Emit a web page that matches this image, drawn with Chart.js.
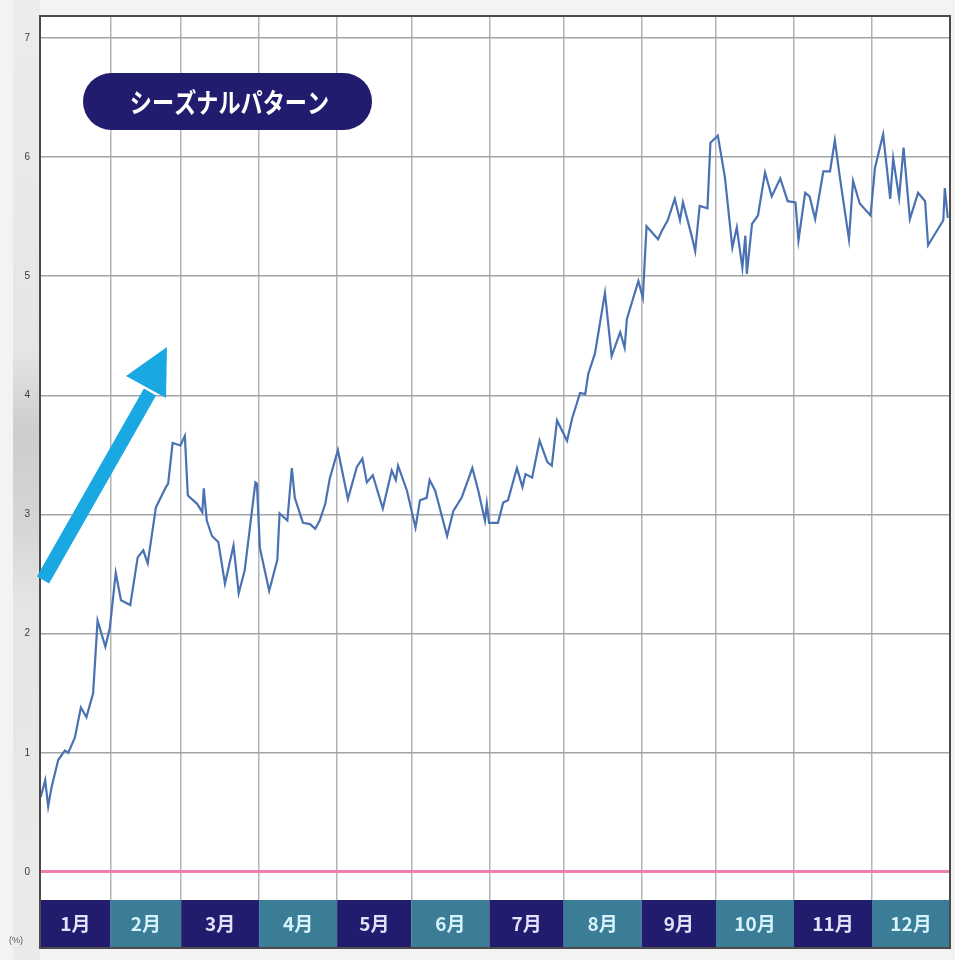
<!DOCTYPE html>
<html>
<head>
<meta charset="utf-8">
<script src="https://cdn.jsdelivr.net/npm/chart.js@4.4.1/dist/chart.umd.min.js"></script>
<style>
  html, body { margin: 0; padding: 0; background: #f3f3f3; }
  canvas { display: block; }
</style>
</head>
<body>
<canvas id="seasonal" width="955" height="960"></canvas>
<script>
// Month names shown in the band under the plot
const monthLabels = ['1月', '2月', '3月', '4月', '5月', '6月', '7月', '8月', '9月', '10月', '11月', '12月'];
// Trading days in each month (the x axis runs in trading days)
const monthDays = [19, 19, 21, 21, 20, 21, 20, 21, 20, 21, 21, 21];
// Percentage ticks on the left axis
const yTickValues = [0, 1, 2, 3, 4, 5, 6, 7];
const titleText = 'シーズナルパターン';
const unitText = '(%)';

// Trading-day position within the year
const dayPos = [
  0.2, 1.4, 2.2, 3.1, 4.9, 6.7, 7.6, 9.4, 11.0, 12.5, 14.3, 15.5, 17.6, 18.8,
  20.4, 21.8, 24.3, 26.3, 27.8, 29.0, 31.2, 33.9, 34.5, 35.7, 37.8, 39.0, 39.8,
  42.3, 43.7, 44.1, 44.9, 46.3, 48.0, 49.8, 52.1, 53.5, 55.1, 58.0, 58.4, 59.2,
  61.7, 63.9, 64.5, 66.6, 67.8, 68.6, 70.8, 72.7, 74.1, 75.3, 76.8, 78.0, 80.2,
  82.9, 85.3, 86.8, 88.0, 89.6, 92.3, 94.7, 95.8, 96.4, 98.8, 101.1,
  102.3, 104.1, 104.9, 106.4, 109.6, 111.3, 113.5, 116.4, 118.0, 119.8, 120.3, 120.9,
  123.3, 124.7, 126.0, 128.4, 129.9, 130.7, 132.5, 134.5, 136.6, 137.8, 139.2, 141.9,
  143.3, 144.5, 145.4, 146.8, 147.6, 149.4, 152.1, 153.9, 156.2, 157.4, 158.0, 161.1, 162.3,
  163.3, 166.4, 167.4, 169.0, 170.9, 172.3, 173.1, 175.6, 176.4, 177.6, 179.7, 180.5, 182.5,
  184.4, 186.4, 187.6, 189.1, 189.9, 190.3, 191.7, 193.3, 195.2, 197.0, 199.3, 201.3, 203.4,
  204.2, 206.0, 207.2, 208.7, 210.9, 212.7, 214.0, 215.4, 217.8, 218.9, 220.7, 223.6,
  224.8, 227.0, 228.9, 229.7, 231.3, 232.5, 234.2, 236.4, 238.3, 239.1, 243.2, 243.6, 244.4
];

// Average cumulative return (%) at each position
const pctValues = [
  0.63, 0.77, 0.55, 0.71, 0.94, 1.02, 1.00, 1.13, 1.38, 1.30, 1.50, 2.11, 1.89, 2.05,
  2.51, 2.28, 2.24, 2.64, 2.70, 2.59, 3.06, 3.23, 3.26, 3.60, 3.58, 3.66, 3.16,
  3.09, 3.02, 3.22, 2.95, 2.82, 2.77, 2.42, 2.74, 2.34, 2.53, 3.27, 3.26, 2.72,
  2.36, 2.62, 3.01, 2.95, 3.39, 3.14, 2.93, 2.92, 2.88, 2.95, 3.09, 3.30, 3.54,
  3.13, 3.40, 3.47, 3.27, 3.33, 3.05, 3.37, 3.29, 3.41, 3.20, 2.89,
  3.12, 3.14, 3.29, 3.20, 2.82, 3.03, 3.14, 3.39, 3.20, 2.95, 3.09, 2.93,
  2.93, 3.10, 3.12, 3.39, 3.23, 3.34, 3.31, 3.62, 3.44, 3.41, 3.79, 3.62,
  3.81, 3.93, 4.02, 4.01, 4.18, 4.35, 4.86, 4.33, 4.53, 4.40, 4.64, 4.96, 4.82,
  5.42, 5.31, 5.38, 5.47, 5.65, 5.47, 5.62, 5.32, 5.21, 5.59, 5.57, 6.12, 6.18,
  5.83, 5.24, 5.41, 5.07, 5.34, 5.02, 5.44, 5.51, 5.87, 5.67, 5.82, 5.63, 5.62,
  5.30, 5.70, 5.67, 5.48, 5.88, 5.88, 6.14, 5.82, 5.31, 5.80, 5.61, 5.51,
  5.91, 6.19, 5.65, 5.99, 5.66, 6.08, 5.48, 5.70, 5.63, 5.26, 5.47, 5.74, 5.49
];

const points = dayPos.map((d, i) => ({ x: d, y: pctValues[i] }));
const monthEdges = [0];
monthDays.forEach(n => monthEdges.push(monthEdges[monthEdges.length - 1] + n));
const totalDays = monthEdges[monthEdges.length - 1];
const monthMid = monthDays.map((n, i) => monthEdges[i] + n / 2);

const NAVY = '#221c6f';
const TEAL = '#3b7c97';
const LINE_BLUE = '#4a72b2';
const PINK = '#f17eae';

// Page backdrop, white plot field and the coloured month band
const backdrop = {
  id: 'backdrop',
  beforeDraw(chart) {
    const { ctx, chartArea: a } = chart;
    const band = chart.scales.xMonth;
    ctx.save();
    ctx.fillStyle = '#f3f3f3';
    ctx.fillRect(0, 0, chart.width, chart.height);
    const g = ctx.createLinearGradient(0, 0, 0, chart.height);
    g.addColorStop(0, '#ececec');
    g.addColorStop(0.36, '#e6e6e6');
    g.addColorStop(0.45, '#cdcdcd');
    g.addColorStop(0.55, '#d6d6d6');
    g.addColorStop(0.63, '#e5e5e5');
    g.addColorStop(1, '#ebebeb');
    ctx.fillStyle = g;
    ctx.fillRect(13, 0, a.left - 13, chart.height);
    ctx.fillStyle = '#ffffff';
    ctx.fillRect(a.left, a.top, a.right - a.left, a.bottom - a.top);
    for (let i = 0; i < monthLabels.length; i++) {
      const x0 = band.getPixelForValue(monthEdges[i]);
      const x1 = band.getPixelForValue(monthEdges[i + 1]);
      ctx.fillStyle = i % 2 === 0 ? NAVY : TEAL;
      ctx.fillRect(x0, band.top, x1 - x0, band.bottom - band.top);
    }
    ctx.restore();
  }
};

// Frame, arrow, title badge and unit note
const overlay = {
  id: 'overlay',
  afterDraw(chart) {
    const { ctx, chartArea: a } = chart;
    const band = chart.scales.xMonth;
    ctx.save();

    ctx.strokeStyle = '#4b4b4b';
    ctx.lineWidth = 2;
    ctx.strokeRect(a.left, a.top, a.right - a.left, band.bottom - a.top);

    // rising arrow
    ctx.strokeStyle = '#1aa8e2';
    ctx.fillStyle = '#1aa8e2';
    ctx.lineWidth = 14;
    ctx.lineCap = 'butt';
    ctx.beginPath();
    ctx.moveTo(43, 580);
    ctx.lineTo(150, 392);
    ctx.stroke();
    ctx.beginPath();
    ctx.moveTo(167, 347);
    ctx.lineTo(126, 376);
    ctx.lineTo(166, 398);
    ctx.closePath();
    ctx.fill();

    // title badge
    const bx = 83, by = 73, bw = 289, bh = 57, r = bh / 2;
    ctx.fillStyle = NAVY;
    ctx.beginPath();
    ctx.moveTo(bx + r, by);
    ctx.lineTo(bx + bw - r, by);
    ctx.arc(bx + bw - r, by + r, r, -Math.PI / 2, Math.PI / 2);
    ctx.lineTo(bx + r, by + bh);
    ctx.arc(bx + r, by + r, r, Math.PI / 2, Math.PI * 1.5);
    ctx.closePath();
    ctx.fill();
    ctx.fillStyle = '#ffffff';
    ctx.font = 'bold 27px "Noto Sans CJK JP"';
    ctx.textAlign = 'center';
    ctx.textBaseline = 'middle';
    ctx.save();
    ctx.translate(bx + bw / 2 + 2, by + bh / 2 + 1);
    ctx.scale(0.82, 1);
    ctx.fillText(titleText, 0, 0);
    ctx.restore();

    // unit note
    ctx.fillStyle = '#555555';
    ctx.font = '9px "Liberation Sans Narrow", "Liberation Sans"';
    ctx.textAlign = 'left';
    ctx.fillText(unitText, 9, 941);
    ctx.restore();
  }
};

new Chart(document.getElementById('seasonal'), {
  type: 'line',
  data: {
    datasets: [{
      data: points,
      borderColor: LINE_BLUE,
      borderWidth: 2.2,
      pointRadius: 0,
      tension: 0,
      fill: false
    }]
  },
  options: {
    responsive: false,
    animation: false,
    layout: { padding: { top: 15, right: 5, bottom: 12, left: 0 } },
    plugins: { legend: { display: false }, tooltip: { enabled: false } },
    scales: {
      x: {
        type: 'linear',
        position: 'top',
        min: 0,
        max: totalDays,
        afterBuildTicks: s => { s.ticks = monthEdges.map(v => ({ value: v })); },
        grid: { color: '#b4b4b4', lineWidth: 1.5, drawTicks: false },
        border: { display: false },
        ticks: { display: false }
      },
      xMonth: {
        type: 'linear',
        position: 'bottom',
        min: 0,
        max: totalDays,
        afterBuildTicks: s => { s.ticks = monthMid.map(v => ({ value: v })); },
        grid: { display: false, drawTicks: false },
        border: { display: false },
        ticks: {
          padding: 0,
          maxRotation: 0,
          autoSkip: false,
          color: c => (c.index % 2 === 0 ? '#e2e0fa' : '#d6f3fb'),
          font: { family: '"Liberation Sans Narrow", "Noto Sans CJK JP"', size: 19, weight: 'bold', lineHeight: '48px' },
          callback: (v, i) => monthLabels[i]
        }
      },
      y: {
        type: 'linear',
        min: -0.235,
        max: 7.184,
        afterBuildTicks: s => { s.ticks = yTickValues.map(v => ({ value: v })); },
        afterFit: s => { s.width = 40; },
        grid: {
          color: c => (c.tick && c.tick.value === 0 ? PINK : '#a3a3a3'),
          lineWidth: c => (c.tick && c.tick.value === 0 ? 3 : 1.5),
          drawTicks: false
        },
        border: { display: false },
        ticks: {
          padding: 10,
          color: '#3a3a3a',
          font: { family: '"Liberation Sans Narrow", "Liberation Sans"', size: 10 },
          callback: v => String(v)
        }
      }
    }
  },
  plugins: [backdrop, overlay]
});
</script>
</body>
</html>
